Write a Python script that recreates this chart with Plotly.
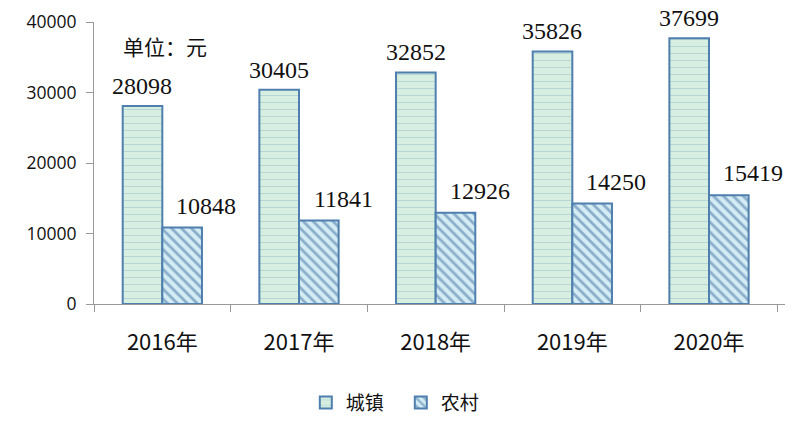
import plotly.graph_objects as go

years = ["2016年", "2017年", "2018年", "2019年", "2020年"]
urban = [28098, 30405, 32852, 35826, 37699]
rural = [10848, 11841, 12926, 14250, 15419]
y_ticks = [0, 10000, 20000, 30000, 40000]

edge = "#4f7fae"
serif = "Liberation Serif, Times New Roman, serif"

fig = go.Figure()
fig.add_trace(go.Bar(
    x=years, y=urban, name="城镇",
    marker=dict(color="#d6efe0", line=dict(color=edge, width=2),
                pattern=dict(shape="-", fgcolor="#7fa6c2", bgcolor="#d6efe0",
                             size=7, solidity=0.1)),
))
fig.add_trace(go.Bar(
    x=years, y=rural, name="农村",
    marker=dict(color="#cfe9f2", line=dict(color=edge, width=2),
                pattern=dict(shape="\\", fgcolor="#3f6f9f", bgcolor="#d4ecf4",
                             size=7, solidity=0.4)),
))

annotations = []
for yr, u, r in zip(years, urban, rural):
    annotations.append(dict(x=yr, y=u, text=str(u), xref="x", yref="y",
                            showarrow=False, yanchor="bottom", xshift=-20, yshift=5,
                            font=dict(family=serif, size=24, color="#111")))
    annotations.append(dict(x=yr, y=r, text=str(r), xref="x", yref="y",
                            showarrow=False, yanchor="bottom", xshift=44, yshift=7,
                            font=dict(family=serif, size=24, color="#111")))
annotations.append(dict(x=0.103, y=0.915, xref="paper", yref="paper", text="单位：元",
                        showarrow=False, xanchor="center", yanchor="middle",
                        font=dict(family="Noto Sans CJK SC", size=21, color="#111")))

# page body adds an 8px offset, margins compensate for it
fig.update_layout(
    width=800, height=434,
    margin=dict(l=86, r=23, t=14, b=138),
    paper_bgcolor="white", plot_bgcolor="white",
    barmode="group", bargap=0.42, bargroupgap=0,
    annotations=annotations,
    showlegend=True,
    legend=dict(orientation="h", x=0.444, xanchor="center", y=-0.35, yanchor="middle",
                font=dict(family="Noto Sans CJK SC", size=19, color="#111"),
                itemwidth=30, entrywidth=50, traceorder="normal"),
    xaxis=dict(showline=True, linecolor="#999", linewidth=1, ticks="outside",
               tickson="boundaries", ticklen=7, tickcolor="#999",
               ticklabelstandoff=19, automargin=False,
               tickfont=dict(family="Liberation Sans Narrow, Noto Sans CJK SC", size=22,
                             color="#111")),
    yaxis=dict(range=[0, 40000], tickvals=y_ticks, ticktext=[str(v) for v in y_ticks],
               showgrid=False, zeroline=False, automargin=False,
               showline=True, linecolor="#999", linewidth=1, ticks="outside",
               ticklen=7, tickcolor="#999", ticklabelstandoff=6,
               tickfont=dict(family="Open Sans", size=17.5, color="#111")),
)

fig.write_html("out.html")
